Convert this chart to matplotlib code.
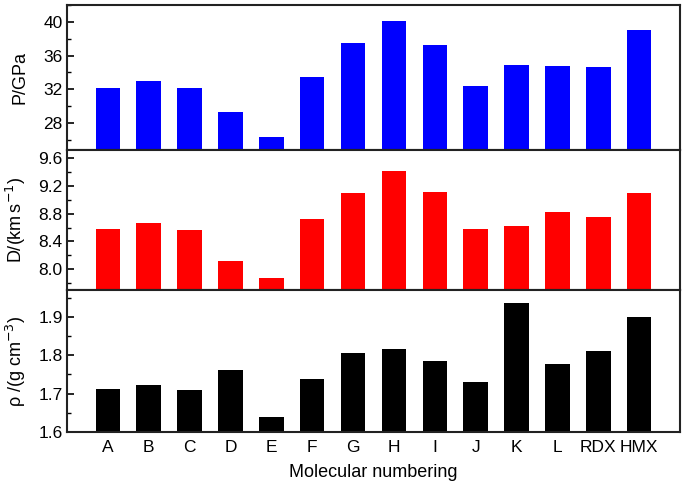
import numpy as np
import matplotlib.pyplot as plt
from matplotlib.ticker import MultipleLocator

plt.rcParams['font.family'] = ['Liberation Sans', 'DejaVu Sans']
plt.rcParams['font.size'] = 12

### data
names = ['A', 'B', 'C', 'D', 'E', 'F', 'G', 'H', 'I', 'J', 'K', 'L', 'RDX', 'HMX']
P = [32.2, 33.0, 32.1, 29.3, 26.3, 33.5, 37.5, 40.15, 37.3, 32.4, 34.9, 34.8, 34.6, 39.0]
D = [8.58, 8.665, 8.57, 8.115, 7.87, 8.72, 9.10, 9.41, 9.12, 8.58, 8.62, 8.82, 8.75, 9.10]
rho = [1.713, 1.723, 1.710, 1.761, 1.639, 1.738, 1.805, 1.817, 1.786, 1.731, 1.935, 1.778, 1.810, 1.900]

x = np.arange(1, len(names) + 1)

fig = plt.figure(figsize=(6.85, 4.82), dpi=100)
left, width = 0.0978, 0.895
ax1 = fig.add_axes([left, 0.6888, width, 0.3008])
ax2 = fig.add_axes([left, 0.3983, width, 0.2905])
ax3 = fig.add_axes([left, 0.1037, width, 0.2946])

panels = [
    (ax1, P, 'blue', (24.8, 42.0), 4, 2, 'P/GPa'),
    (ax2, D, 'red', (7.70, 9.72), 0.4, 0.2, r'D/(km$\,$s$^{-1}$)'),
    (ax3, rho, 'black', (1.6, 1.97), 0.1, 0.05, r'ρ /(g cm$^{-3}$)'),
]

for ax, vals, col, lim, maj, mnr, lab in panels:
    ax.bar(x, np.array(vals) - lim[0], bottom=lim[0], width=0.6, color=col)
    ax.set_xlim(0, 15)
    ax.set_ylim(*lim)
    ax.yaxis.set_major_locator(MultipleLocator(maj))
    ax.yaxis.set_minor_locator(MultipleLocator(mnr))
    ax.tick_params(axis='y', which='major', direction='in', length=5, width=1.2,
                   labelsize=12.5, pad=3)
    ax.tick_params(axis='y', which='minor', direction='in', length=3, width=1.0)
    ax.tick_params(axis='x', length=0, pad=6)
    ax.set_ylabel(lab, fontsize=13)
    for s in ax.spines.values():
        s.set_linewidth(1.5)
        s.set_color('#222222')

ax1.set_xticks([])
ax2.set_xticks([])
ax3.set_xticks(x)
ax3.set_xticklabels(names, fontsize=12.5)
ax3.set_xlabel('Molecular numbering', fontsize=13, labelpad=6)

ax2.set_yticks([8.0, 8.4, 8.8, 9.2, 9.6])
ax2.set_yticklabels(['8.0', '8.4', '8.8', '9.2', '9.6'])
ax3.set_yticks([1.6, 1.7, 1.8, 1.9])

for ax in (ax1, ax2, ax3):
    ax.yaxis.set_label_coords(-0.063, 0.5)

fig.savefig('out.png', dpi=100)
